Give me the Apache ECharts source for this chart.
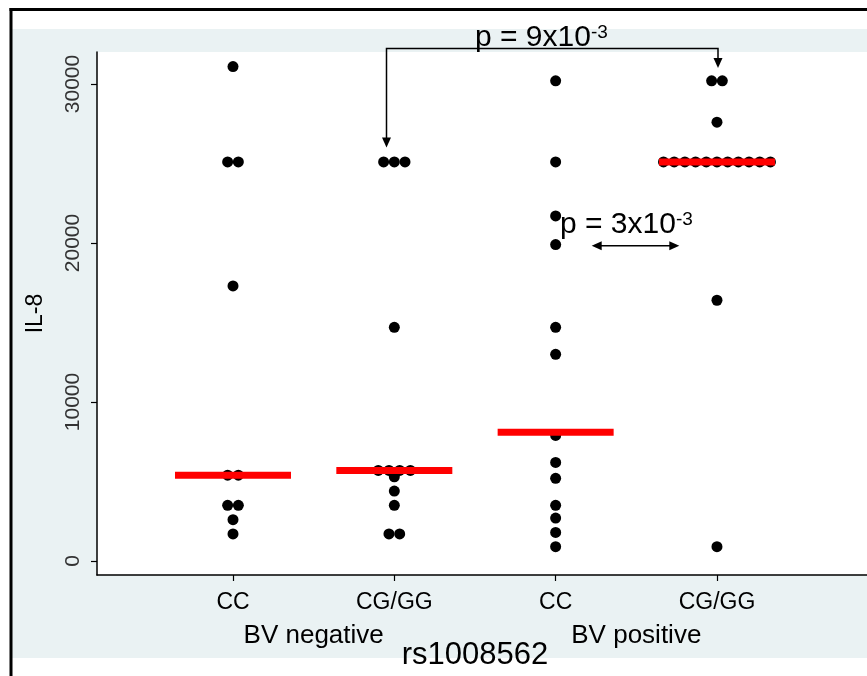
<!DOCTYPE html>
<html><head><meta charset="utf-8">
<script src="https://cdn.jsdelivr.net/npm/echarts@6/dist/echarts.min.js"></script>
<style>html,body{margin:0;padding:0;background:#fff}#c{width:867px;height:676px}</style>
</head><body><div id="c"></div>
<script>
// ---- data ----
const categories = ['CC', 'CG/GG', 'CC', 'CG/GG'];
const groupLabels = ['BV negative', 'BV positive'];
const xAxisTitle = 'rs1008562';
const yAxisTitle = 'IL-8';
const yTicks = [0, 10000, 20000, 30000];
const bvNegCC   = [31100, 25100, 25100, 17300, 5400, 5400, 3500, 3500, 2600, 1700];
const bvNegCGGG = [25100, 25100, 25100, 14700, 5700, 5700, 5700, 5700, 5300, 4400, 3500, 1700, 1700];
const bvPosCC   = [30200, 25100, 21700, 19900, 14700, 13000, 7900, 6200, 5200, 3500, 2700, 1800, 900];
const bvPosCGGG = [30200, 30200, 27600, 25100, 25100, 25100, 25100, 25100, 25100, 25100, 25100, 25100, 25100, 25100, 16400, 900];
const medians   = [5400, 5700, 8100, 25100];
const pTop = { main: 'p = 9x10', exp: '-3' };
const pMid = { main: 'p = 3x10', exp: '-3' };

const groups = [bvNegCC, bvNegCGGG, bvPosCC, bvPosCGGG];
const FONT = '"Liberation Sans", Arial, sans-serif';
const dotStep = 0.0663;
const xMin = 0.157, xMax = 4.93;

// dot-plot layout: identical values are spread side by side around the category
const dots = [];
groups.forEach((vals, g) => {
  const counts = {};
  vals.forEach(v => counts[v] = (counts[v] || 0) + 1);
  Object.keys(counts).forEach(k => {
    const n = counts[k];
    for (let i = 0; i < n; i++) dots.push([g + 1 + (i - (n - 1) / 2) * dotStep, +k]);
  });
});
const medData = medians.map((m, g) => [g + 1, m]);

const chart = echarts.init(document.getElementById('c'), null, { renderer: 'canvas' });
chart.setOption({
  animation: false,
  backgroundColor: '#fff',
  grid: { left: 97, right: 0, top: 52, bottom: 101, containLabel: false, outerBoundsMode: 'none' },
  xAxis: {
    type: 'value', min: xMin, max: xMax,
    axisLine: { show: true, onZero: false, lineStyle: { color: '#000', width: 1.5 } },
    axisTick: { show: true, customValues: [1, 2, 3, 4], length: 6, lineStyle: { color: '#000', width: 1.2 } },
    axisLabel: { customValues: [1, 2, 3, 4], formatter: v => categories[Math.round(v) - 1], fontSize: 23, color: '#000', fontFamily: FONT, margin: 16 },
    splitLine: { show: false }
  },
  yAxis: {
    type: 'value', min: -880, max: 32013,
    name: yAxisTitle, nameLocation: 'middle', nameGap: 50, nameRotate: 90,
    nameTextStyle: { fontSize: 23, color: '#000', fontFamily: FONT },
    axisLine: { show: true, onZero: false, lineStyle: { color: '#000', width: 1.5 } },
    axisTick: { show: true, customValues: yTicks, length: 6, lineStyle: { color: '#000', width: 1.2 } },
    axisLabel: { customValues: yTicks, formatter: v => String(Math.round(v)), rotate: 90, fontSize: 21, color: '#333', fontFamily: FONT, margin: 13 },
    splitLine: { show: false }
  },
  series: [
    { type: 'scatter', data: dots, symbol: 'circle', symbolSize: 11, itemStyle: { color: '#000', opacity: 1 }, z: 2 },
    { type: 'scatter', data: medData, symbol: 'rect', symbolSize: [116, 7], itemStyle: { color: '#ff0000', opacity: 1 }, z: 3 }
  ]
});

const px = v => chart.convertToPixel({ xAxisIndex: 0 }, v);
const arrowDown = (x, tipY) => ({ type: 'polygon', shape: { points: [[x - 4.5, tipY - 10], [x + 4.5, tipY - 10], [x, tipY]] }, style: { fill: '#000' }, z: 10 });
const arrowSide = (tipX, y, dir) => ({ type: 'polygon', shape: { points: [[tipX, y], [tipX + dir * 10, y - 4.5], [tipX + dir * 10, y + 4.5]] }, style: { fill: '#000' }, z: 10 });
const richP = p => ({
  text: '{m|' + p.main + '}{e|' + p.exp + '}',
  rich: {
    m: { fontSize: 30, fontFamily: FONT, fill: '#000', verticalAlign: 'bottom' },
    e: { fontSize: 19, fontFamily: FONT, fill: '#000', verticalAlign: 'top' }
  }
});

chart.setOption({
  graphic: [
    { type: 'rect', shape: { x: 12, y: 29, width: 855, height: 629 }, style: { fill: '#eaf2f3' }, z: -20, silent: true },
    { type: 'rect', shape: { x: 97, y: 52, width: 770, height: 523 }, style: { fill: '#ffffff' }, z: -19, silent: true },
    { type: 'rect', shape: { x: 9.5, y: 8, width: 3, height: 668 }, style: { fill: '#000' }, z: 20, silent: true },
    { type: 'rect', shape: { x: 9.5, y: 8, width: 858, height: 3 }, style: { fill: '#000' }, z: 20, silent: true },
    // group titles and axis title
    { type: 'text', x: (px(1) + px(2)) / 2, y: 636, style: { text: groupLabels[0], fontSize: 26, fontFamily: FONT, fill: '#000', align: 'center', verticalAlign: 'middle' }, z: 10 },
    { type: 'text', x: (px(3) + px(4)) / 2, y: 636, style: { text: groupLabels[1], fontSize: 26, fontFamily: FONT, fill: '#000', align: 'center', verticalAlign: 'middle' }, z: 10 },
    { type: 'text', x: (px(2) + px(3)) / 2, y: 655, style: { text: xAxisTitle, fontSize: 31, fontFamily: FONT, fill: '#000', align: 'center', verticalAlign: 'middle' }, z: 10 },
    // bracket annotation
    { type: 'polyline', shape: { points: [[386.5, 138], [386.5, 48.5], [718, 48.5], [718, 58]] }, style: { stroke: '#000', lineWidth: 1.5, fill: null }, z: 10 },
    arrowDown(386.5, 147.5),
    arrowDown(718, 68),
    { type: 'text', x: 475, y: 53, style: Object.assign({ align: 'left', verticalAlign: 'bottom' }, richP(pTop)), z: 11 },
    // double arrow annotation
    { type: 'line', shape: { x1: 600, y1: 245.7, x2: 671, y2: 245.7 }, style: { stroke: '#000', lineWidth: 1.5 }, z: 10 },
    arrowSide(591.7, 245.7, 1),
    arrowSide(679.3, 245.7, -1),
    { type: 'text', x: 560, y: 240, style: Object.assign({ align: 'left', verticalAlign: 'bottom' }, richP(pMid)), z: 11 }
  ]
});
</script></body></html>
